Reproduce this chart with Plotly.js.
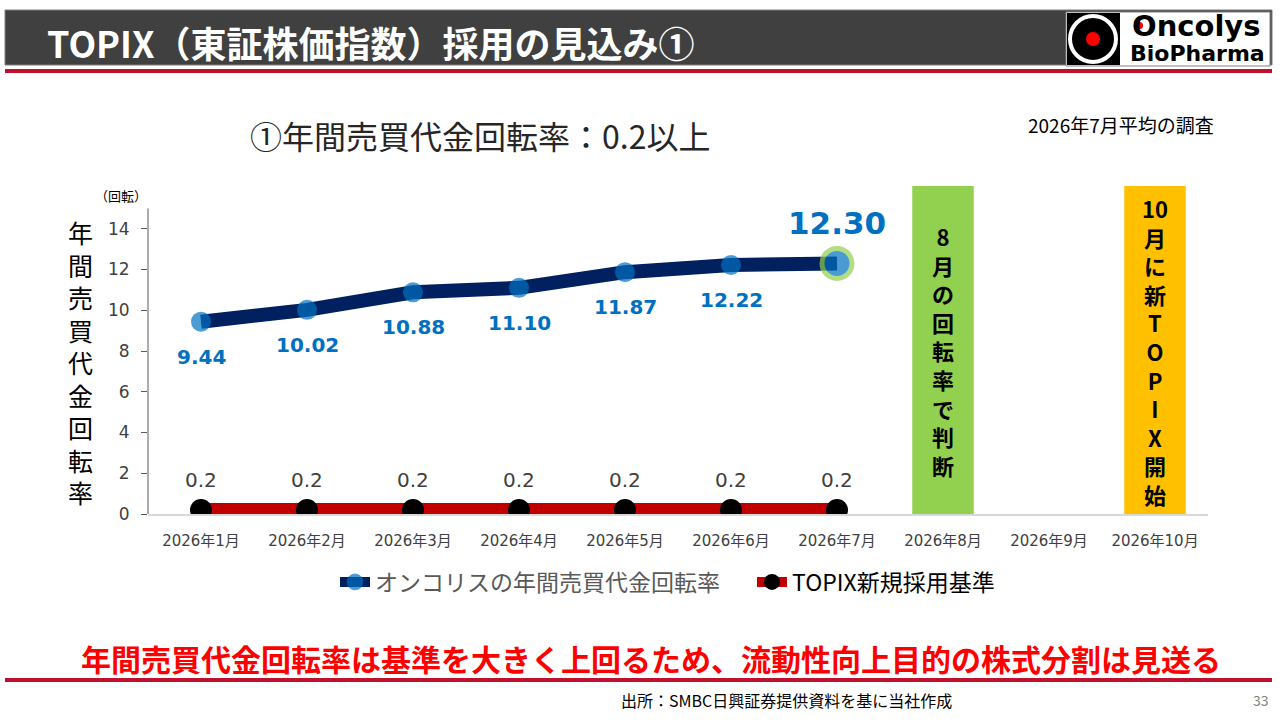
<!DOCTYPE html>
<html>
<head>
<meta charset="utf-8">
<script src="https://cdn.plot.ly/plotly-3.0.1.min.js"></script>
<style>
  html, body { margin: 0; padding: 0; background: #fff; }
  #chart { width: 1280px; height: 720px; }
</style>
</head>
<body>
<div id="chart"></div>
<script>
// months on the x axis (Aug-Oct have no values, only the notes)
const months = ['2026年1月', '2026年2月', '2026年3月', '2026年4月', '2026年5月',
                '2026年6月', '2026年7月', '2026年8月', '2026年9月', '2026年10月'];
const observedMonths = months.slice(0, 7);
const oncolysTurnover = [9.44, 10.02, 10.88, 11.10, 11.87, 12.22, 12.30];
const topixThreshold = [0.2, 0.2, 0.2, 0.2, 0.2, 0.2, 0.2];

const yTicks = [0, 2, 4, 6, 8, 10, 12, 14];
const yMax = 16.1;

const judgeMonth = '2026年8月';
const startMonth = '2026年10月';

const jp = '"Noto Sans CJK JP", sans-serif';
const num = '"DejaVu Sans", "Noto Sans CJK JP", sans-serif';

// plot area in page pixels, used for the slide decorations only
const L = 148, R = 1208, T = 186, B = 514;
const px = X => (X - L) / (R - L);
const py = Y => (B - Y) / (B - T);

const last = oncolysTurnover.length - 1;

const oncolysTrace = {
    x: observedMonths,
    y: oncolysTurnover,
    type: 'scatter',
    mode: 'lines+markers',
    name: 'オンコリスの年間売買代金回転率',
    line: { color: '#002060', width: 14 },
    marker: {
        color: '#0070C0',
        size: oncolysTurnover.map((_, i) => i === last ? 30 : 20),
        line: {
            color: oncolysTurnover.map((_, i) => i === last ? '#92D050' : '#0070C0'),
            width: oncolysTurnover.map((_, i) => i === last ? 5 : 0)
        }
    },
    hoverinfo: 'skip'
};

const topixTrace = {
    x: observedMonths,
    y: topixThreshold,
    type: 'scatter',
    mode: 'lines+markers',
    name: '<span style="color:#000">TOPIX新規採用基準</span>',
    line: { color: '#C00000', width: 14 },
    marker: { color: '#000000', size: 22 },
    hoverinfo: 'skip'
};

const annotations = [];

// value labels
oncolysTurnover.forEach((v, i) => {
    annotations.push({
        x: observedMonths[i], y: v, xref: 'x', yref: 'y',
        xanchor: 'center', yanchor: 'middle',
        text: v.toFixed(2), showarrow: false,
        yshift: i === last ? 40 : -35,
        font: { family: num, size: i === last ? 31 : 20, color: '#0070C0', weight: 'bold' }
    });
});
topixThreshold.forEach((v, i) => {
    annotations.push({
        x: observedMonths[i], y: v, xref: 'x', yref: 'y',
        xanchor: 'center', yanchor: 'middle',
        text: String(v), showarrow: false, yshift: 30,
        font: { family: num, size: 20, color: '#404040' }
    });
});

// notes in the coloured columns
const vertical = s => s.join('<br>');
annotations.push({
    x: judgeMonth, y: py(350), xref: 'x', yref: 'paper', showarrow: false,
    xanchor: 'center', yanchor: 'middle',
    text: vertical(['8', '月', 'の', '回', '転', '率', 'で', '判', '断']),
    font: { family: jp, size: 22, color: '#000', weight: 'bold' }
});
annotations.push({
    x: startMonth, y: py(351), xref: 'x', yref: 'paper', showarrow: false,
    xanchor: 'center', yanchor: 'middle',
    text: vertical(['10', '月', 'に', '新', 'T', 'O', 'P', 'I', 'X', '開', '始']),
    font: { family: jp, size: 22, color: '#000', weight: 'bold' }
});

// texts placed on the slide in page pixels
function pageText(X, Y, text, font, xanchor) {
    annotations.push({
        x: px(X), y: py(Y), xref: 'paper', yref: 'paper', showarrow: false,
        xanchor: xanchor || 'center', yanchor: 'middle', text: text, font: font
    });
}

pageText(80, 362, vertical(['年', '間', '売', '買', '代', '金', '回', '転', '率']),
    { family: jp, size: 25, color: '#000' });
pageText(121, 195, '（回転）', { family: jp, size: 13, color: '#000' });

pageText(45, 42, 'TOPIX（東証株価指数）採用の見込み①',
    { family: jp, size: 36, color: '#fff', weight: 'bold' }, 'left');
pageText(480, 135, '①年間売買代金回転率：0.2以上', { family: jp, size: 32, color: '#262626' });
pageText(1121, 125, '2026年7月平均の調査', { family: jp, size: 19, color: '#000' });
pageText(651, 658, '年間売買代金回転率は基準を大きく上回るため、流動性向上目的の株式分割は見送る',
    { family: jp, size: 30, color: '#FF0000', weight: 'bold' });
pageText(786, 700, '出所：SMBC日興証券提供資料を基に当社作成', { family: jp, size: 16, color: '#000' });
pageText(1261, 700, '33', { family: jp, size: 14, color: '#808080' });

// logo words
pageText(1196, 26, 'Oncolys', { family: num, size: 29, color: '#000', weight: 'bold' });
pageText(1197, 53, 'BioPharma', { family: num, size: 22, color: '#000', weight: 'bold' });

const colIndex = m => months.indexOf(m);
const shapes = [
    // coloured columns
    { type: 'rect', xref: 'x', yref: 'y', layer: 'below',
      x0: colIndex(judgeMonth) - 0.29, x1: colIndex(judgeMonth) + 0.29, y0: 0, y1: yMax,
      fillcolor: '#92D050', line: { width: 0 } },
    { type: 'rect', xref: 'x', yref: 'y', layer: 'below',
      x0: colIndex(startMonth) - 0.29, x1: colIndex(startMonth) + 0.29, y0: 0, y1: yMax,
      fillcolor: '#FFC000', line: { width: 0 } },
    // y axis line (stops at 15)
    { type: 'line', xref: 'paper', yref: 'y', x0: 0, x1: 0, y0: 0, y1: 15,
      line: { color: '#595959', width: 1 } },
    // header bar and rules
    { type: 'rect', xref: 'paper', yref: 'paper', x0: px(5), x1: px(1272), y0: py(65), y1: py(10),
      fillcolor: '#404040', line: { color: '#7f7f7f', width: 1 } },
    { type: 'rect', xref: 'paper', yref: 'paper', x0: px(5), x1: px(1272), y0: py(73), y1: py(69),
      fillcolor: '#C0102E', line: { width: 0 } },
    { type: 'rect', xref: 'paper', yref: 'paper', x0: px(5), x1: px(1272), y0: py(682), y1: py(678),
      fillcolor: '#C0102E', line: { width: 0 } },
    // logo
    { type: 'rect', xref: 'paper', yref: 'paper', x0: px(1066), x1: px(1270), y0: py(66), y1: py(12),
      fillcolor: '#ffffff', line: { color: '#808080', width: 1 } },
    { type: 'rect', xref: 'paper', yref: 'paper', x0: px(1067), x1: px(1120), y0: py(65), y1: py(13),
      fillcolor: '#000000', line: { width: 0 } },
    { type: 'circle', xref: 'paper', yref: 'paper', x0: px(1070), x1: px(1116), y0: py(62), y1: py(16),
      line: { color: '#ffffff', width: 4 } },
    { type: 'circle', xref: 'paper', yref: 'paper', x0: px(1086), x1: px(1100), y0: py(46), y1: py(32),
      fillcolor: '#FF0000', line: { width: 0 } },
    { type: 'circle', xref: 'paper', yref: 'paper', x0: px(1136), x1: px(1143), y0: py(29), y1: py(22),
      fillcolor: '#FF0000', line: { width: 0 } }
];

const layout = {
    width: 1280,
    height: 720,
    margin: { l: L, r: 1280 - R, t: T, b: 720 - B },
    paper_bgcolor: '#ffffff',
    plot_bgcolor: '#ffffff',
    showlegend: true,
    legend: {
        orientation: 'h', x: px(335), xanchor: 'left', y: py(582), yanchor: 'middle',
        font: { family: jp, size: 23, color: '#595959' },
        entrywidth: 372,
        bgcolor: 'rgba(0,0,0,0)'
    },
    xaxis: {
        type: 'category',
        categoryorder: 'array',
        categoryarray: months,
        tickvals: months,
        range: [-0.5, months.length - 0.5],
        showgrid: false,
        zeroline: false,
        showline: true,
        linecolor: '#D9D9D9',
        linewidth: 2,
        ticks: '',
        ticklabelstandoff: 12,
        tickfont: { family: num, size: 15, color: '#404040' },
        fixedrange: true
    },
    yaxis: {
        range: [0, yMax],
        tickvals: yTicks,
        showgrid: false,
        zeroline: false,
        showline: false,
        ticks: 'outside',
        ticklen: 6,
        tickcolor: '#595959',
        ticklabelstandoff: 8,
        tickfont: { family: num, size: 17, color: '#404040' },
        fixedrange: true
    },
    annotations: annotations,
    shapes: shapes
};

Plotly.newPlot('chart', [oncolysTrace, topixTrace], layout, { displayModeBar: false, staticPlot: true });
</script>
</body>
</html>
